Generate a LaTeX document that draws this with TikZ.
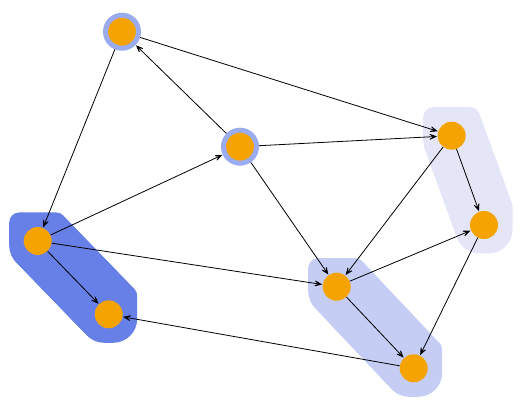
\documentclass[tikz,border=0pt]{standalone}
\usetikzlibrary{arrows.meta}
\definecolor{nodeor}{RGB}{245,163,0}
\definecolor{hullA}{RGB}{102,128,232}
\definecolor{hullB}{RGB}{197,205,245}
\definecolor{hullC}{RGB}{228,230,248}
\definecolor{halo}{RGB}{154,171,240}
\tikzset{
  vert/.style={circle,fill=nodeor,inner sep=0pt,minimum size=28pt},
  haloed/.style={vert,draw=halo,line width=5pt,minimum size=33pt},
  edge/.style={draw=black,line width=0.8pt,-{Stealth[length=11pt,width=9pt,inset=7pt]},shorten >=0.5pt}
}
% sweep a square (top corners radius 10, bottom corners radius 24) from (#1,#2) to (#3,#4), colour #5
\newcommand{\hullsweep}[5]{%
  \foreach \i in {0,...,40}{%
    \pgfmathsetmacro{\tt}{\i/40}%
    \pgfmathsetmacro{\hx}{#1+(#3-#1)*\tt}%
    \pgfmathsetmacro{\hy}{#2+(#4-#2)*\tt}%
    \pgfmathsetmacro{\hl}{\hx-28.5}\pgfmathsetmacro{\hr}{\hx+28.5}%
    \pgfmathsetmacro{\ht}{\hy-28.5}\pgfmathsetmacro{\hb}{\hy+28.5}%
    \def\ra{10}\def\rb{24}%
    \fill[#5] (\hl+\ra,\ht) -- (\hr-\ra,\ht)
      .. controls (\hr-0.448*\ra,\ht) and (\hr,\ht+0.448*\ra) .. (\hr,\ht+\ra)
      -- (\hr,\hb-\rb)
      .. controls (\hr,\hb-0.448*\rb) and (\hr-0.448*\rb,\hb) .. (\hr-\rb,\hb)
      -- (\hl+\rb,\hb)
      .. controls (\hl+0.448*\rb,\hb) and (\hl,\hb-0.448*\rb) .. (\hl,\hb-\rb)
      -- (\hl,\ht+\ra)
      .. controls (\hl,\ht+0.448*\ra) and (\hl+0.448*\ra,\ht) .. cycle;
  }%
}
\begin{document}
\begin{tikzpicture}[x=1pt,y=-1pt]
\useasboundingbox (0,0) rectangle (525,406);
% hulls
\hullsweep{37.7}{241}{108.7}{314.3}{hullA}
\hullsweep{336.7}{286.7}{413.7}{368.3}{hullB}
\hullsweep{451.7}{135.7}{484}{225}{hullC}
% nodes
\node[haloed] (A) at (122,31.7) {};
\node[haloed] (B) at (240,146.7) {};
\node[vert] (C) at (451.7,135.7) {};
\node[vert] (D) at (484,225) {};
\node[vert] (E) at (37.7,241) {};
\node[vert] (F) at (108.7,314.3) {};
\node[vert] (G) at (336.7,286.7) {};
\node[vert] (H) at (413.7,368.3) {};
% edges
\draw[edge] (B) -- (A);
\draw[edge] (A) -- (E);
\draw[edge] (E) -- (B);
\draw[edge] (B) -- (C);
\draw[edge] (A) -- (C);
\draw[edge] (B) -- (G);
\draw[edge] (C) -- (D);
\draw[edge] (C) -- (G);
\draw[edge] (G) -- (D);
\draw[edge] (G) -- (H);
\draw[edge] (D) -- (H);
\draw[edge] (E) -- (F);
\draw[edge] (E) -- (G);
\draw[edge] (H) -- (F);
\end{tikzpicture}
\end{document}
